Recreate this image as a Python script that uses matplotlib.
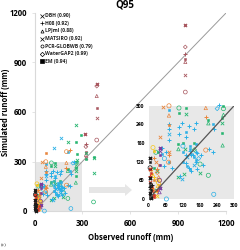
import matplotlib
matplotlib.use('Agg')
import matplotlib.pyplot as plt
from matplotlib.patches import FancyArrow, Rectangle

plt.rcParams['font.family'] = ['Open Sans', 'DejaVu Sans']

# d=DBH h=H08 l=LPJml m=MATSIRO p=PCR-GLOBWB w=WaterGAP2 e=EM
model_names = ['DBH (0.90)', 'H08 (0.92)', 'LPJml (0.88)', 'MATSIRO (0.92)',
               'PCR-GLOBWB (0.79)', 'WaterGAP2 (0.99)', 'EM (0.94)']
model_codes = ['d', 'h', 'l', 'm', 'p', 'w', 'e']

# basins, each one colour
brown_obs = [945, 945, 945, 945, 945, 945, 945, 390, 390, 390, 390, 390, 390, 317, 322, 322, 322, 322, 322]
brown_sim = [1127, 994, 951, 921, 903, 824, 721, 772, 757, 697, 625, 564, 430, 466, 405, 390, 360, 340, 320]
brown_mod = ['d', 'w', 'h', 'e', 'l', 'm', 'p', 'd', 'w', 'l', 'e', 'm', 'p', 'd', 'h', 'w', 'e', 'l', 'm']

green_obs = [106, 131, 106, 131, 259, 207, 209, 258, 258, 258, 259, 121, 104, 104, 127, 160, 160, 180, 180,
             209, 104, 125, 25, 32, 18, 28, 25, 290, 262, 262, 212, 372, 372, 372, 370, 265, 265, 320, 320, 262, 262]
green_sim = [292, 292, 275, 273, 299, 253, 243, 259, 243, 213, 172, 179, 175, 160, 162, 180, 158, 112, 85,
             76, 69, 80, 150, 152, 100, 90, 30, 460, 520, 420, 420, 330, 320, 230, 55, 345, 310, 315, 350, 290, 270]
green_mod = ['p', 'e', 'e', 'm', 'e', 'e', 'l', 'e', 'm', 'e', 'l', 'e', 'e', 'l', 'm', 'e', 'w', 'p', 'm',
             'p', 'm', 'm', 'p', 'e', 'e', 'm', 'm', 'e', 'm', 'e', 'm', 'e', 'm', 'm', 'p', 'e', 'm', 'e', 'm', 'p', 'l']

blue_obs = [71, 71, 71, 71, 71, 45, 45, 55, 55, 72, 105, 115, 105, 130, 130, 140, 160, 165, 165, 165, 120,
            145, 145, 150, 170, 175, 185, 190, 165, 120, 130, 135, 150, 158, 165, 140, 145, 150, 210, 225, 228,
            240, 245, 225, 120, 130, 135, 145, 155, 160, 170, 110, 115, 60, 80, 228, 62, 165, 120, 210]
blue_sim = [285, 240, 225, 210, 190, 165, 145, 130, 105, 118, 230, 245, 210, 200, 215, 235, 225, 245, 175, 150, 170,
            170, 155, 145, 148, 130, 140, 110, 125, 120, 115, 105, 140, 135, 120, 100, 95, 90, 160, 240, 225,
            290, 300, 150, 150, 140, 135, 160, 140, 110, 95, 75, 65, 150, 100, 15, 0, 442, 380, 360]
blue_mod = ['e', 'h', 'h', 'm', 'h', 'h', 'e', 'p', 'h', 'e', 'h', 'h', 'h', 'h', 'e', 'h', 'h', 'h', 'e', 'h', 'p',
            'e', 'h', 'e', 'h', 'w', 'h', 'h', 'e', 'e', 'h', 'e', 'h', 'e', 'h', 'h', 'e', 'h', 'h', 'e', 'h',
            'w', 'h', 'h', 'e', 'h', 'm', 'e', 'h', 'm', 'h', 'h', 'm', 'h', 'h', 'p', 'p', 'm', 'm', 'e']

orange_obs = [71, 71, 71, 40, 200, 200, 200, 71, 70, 70, 25, 35, 30, 35, 20, 35, 15, 25, 30, 20, 72, 200, 220, 50]
orange_sim = [299, 268, 236, 200, 292, 262, 157, 152, 118, 140, 120, 110, 95, 70, 60, 45, 30, 18, 85, 130, 350, 360, 370, 295]
orange_mod = ['p', 'l', 'e', 'm', 'l', 'h', 'p', 'm', 'p', 'h', 'm', 'e', 'h', 'l', 'e', 'm', 'e', 'p', 'w', 'h', 'e', 'p', 'h', 'm']

yellow_obs = [15, 18, 12, 28, 35, 32, 38, 25, 12, 8, 20, 30]
yellow_sim = [165, 155, 80, 62, 52, 42, 60, 25, 35, 95, 70, 10]
yellow_mod = ['p', 'e', 'e', 'm', 'p', 'l', 'w', 'e', 'h', 'l', 'h', 'm']

black_obs = [5, 5, 5, 5, 5, 5, 8, 4, 6, 8, 3, 5, 10, 7, 4]
black_sim = [130, 118, 68, 50, 42, 35, 28, 20, 12, 6, 4, 100, 45, 2, 38]
black_mod = ['d', 'e', 'd', 'e', 'e', 'm', 'e', 'd', 'e', 'e', 'e', 'p', 'h', 'd', 'h']

purple_obs = [38, 38, 38, 38, 38, 38, 38]
purple_sim = [165, 155, 140, 110, 60, 35, 22]
purple_mod = ['d', 'm', 'e', 'e', 'p', 'd', 'l']

red_obs = [6, 8, 5, 10, 14, 20, 30, 6, 12, 18, 4]
red_sim = [95, 85, 75, 40, 12, 8, 30, 55, 25, 14, 15]
red_mod = ['d', 'e', 'h', 'e', 'e', 'e', 'e', 'm', 'm', 'e', 'e']

basins = [('#a8575f', brown_obs, brown_sim, brown_mod),
          ('#25b56f', green_obs, green_sim, green_mod),
          ('#2bb0e6', blue_obs, blue_sim, blue_mod),
          ('#e8853c', orange_obs, orange_sim, orange_mod),
          ('#f6c61c', yellow_obs, yellow_sim, yellow_mod),
          ('#7a3c9e', purple_obs, purple_sim, purple_mod),
          ('#d83a28', red_obs, red_sim, red_mod),
          ('#1c1c1c', black_obs, black_sim, black_mod)]

main_ticks = [0, 300, 600, 900, 1200]
inset_ticks = [0, 60, 120, 180, 240, 300]

styles = {'d': ('x', False, 1.0), 'h': ('+', False, 0.7), 'l': ('^', True, 0.5), 'm': ('x', False, 0.6),
          'p': ('o', True, 0.5), 'w': ('D', True, 0.5), 'e': ('s', False, 0.4)}
sizes = {'d': 5.5, 'h': 6, 'l': 6, 'm': 6, 'p': 9, 'w': 4.5, 'e': 4.5}


def draw_points(ax, scale=1.0, clip=False):
    for col, obs, sim, mod in basins:
        for o, s, m in zip(obs, sim, mod):
            if clip and (o > 300 or s > 300):
                continue
            mk, hollow, lw = styles[m]
            if hollow:
                ax.scatter(o, s, s=sizes[m] * scale, marker=mk, facecolors='none', edgecolors=col,
                           linewidths=lw, clip_on=False, zorder=3)
            else:
                ax.scatter(o, s, s=sizes[m] * scale, marker=mk, color=col, linewidths=lw,
                           clip_on=False, zorder=3)


fig = plt.figure(figsize=(2.4, 2.5), dpi=100)

# MAIN
ax = fig.add_axes([34.5 / 240, 39 / 250, 191.5 / 240, 198 / 250])
ax.set_xlim(0, 1200)
ax.set_ylim(0, 1200)
ax.add_patch(Rectangle((0, 0), 300, 300, color='#e6e6e6', zorder=0, lw=0))
ax.plot([0, 1200], [0, 1200], color='#9a9a9a', lw=0.7, zorder=2)
draw_points(ax, 0.85)
ax.spines['top'].set_visible(False)
ax.spines['right'].set_visible(False)
ax.spines['left'].set_color('#d9d9d9')
ax.spines['bottom'].set_color('#d9d9d9')
ax.set_xticks(main_ticks)
ax.set_yticks(main_ticks)
ax.tick_params(axis='x', length=2, width=0.5, color='#d9d9d9', pad=4, labelsize=5.6)
ax.tick_params(axis='y', length=2, width=0.5, color='#d9d9d9', pad=3.5, labelsize=5.6)
for t in ax.get_xticklabels() + ax.get_yticklabels():
    t.set_fontweight('bold')
ax.set_xlabel('Observed runoff (mm)', fontsize=5.5, fontweight='bold', labelpad=3.5)
ax.set_ylabel('Simulated runoff (mm)', fontsize=5.5, fontweight='bold')
ax.yaxis.set_label_coords(-24 / 191.5, 0.5)

# LEGEND
for i, (name, code) in enumerate(zip(model_names, model_codes)):
    y = 0.9365 - i * 0.0302
    mk, hollow, lw = styles[code]
    fig.add_artist(plt.Line2D([41.5 / 240], [y], marker=mk, ms=2.2, mew=0.5, ls='none',
                              mfc='none' if hollow else 'black', mec='black'))
    fig.text(45 / 240, y, name, fontsize=3.6, fontweight='bold', va='center', ha='left', color='#222222')

# ARROW
fig.add_artist(FancyArrow(89 / 240, 60 / 250, 43 / 240, 0, width=6 / 250, head_width=12 / 250,
                          head_length=7 / 240, length_includes_head=True, color='#e6e6e6', lw=0,
                          transform=fig.transFigure))

# INSET
ax_in = fig.add_axes([148.7 / 240, 51 / 250, 85.6 / 240, 93.5 / 250])
ax_in.set_xlim(0, 300)
ax_in.set_ylim(0, 300)
ax_in.set_facecolor('#e8e8e8')
ax_in.plot([0, 300], [0, 300], color='#555555', lw=0.9, zorder=4)
draw_points(ax_in, clip=True)
for s in ax_in.spines.values():
    s.set_visible(False)
ax_in.set_xticks(inset_ticks)
ax_in.set_yticks(inset_ticks)
ax_in.tick_params(length=0, pad=3, labelsize=3.6)
for t in ax_in.get_xticklabels() + ax_in.get_yticklabels():
    t.set_fontweight('bold')

fig.text(124.5 / 240, 245 / 250, 'Q95', fontsize=7, fontweight='bold', ha='center', va='center')
fig.text(1 / 240, 5 / 250, '(c)', fontsize=3.8, family='Liberation Serif', ha='left', va='center', color='#333333')

fig.savefig('out.png', dpi=100)
